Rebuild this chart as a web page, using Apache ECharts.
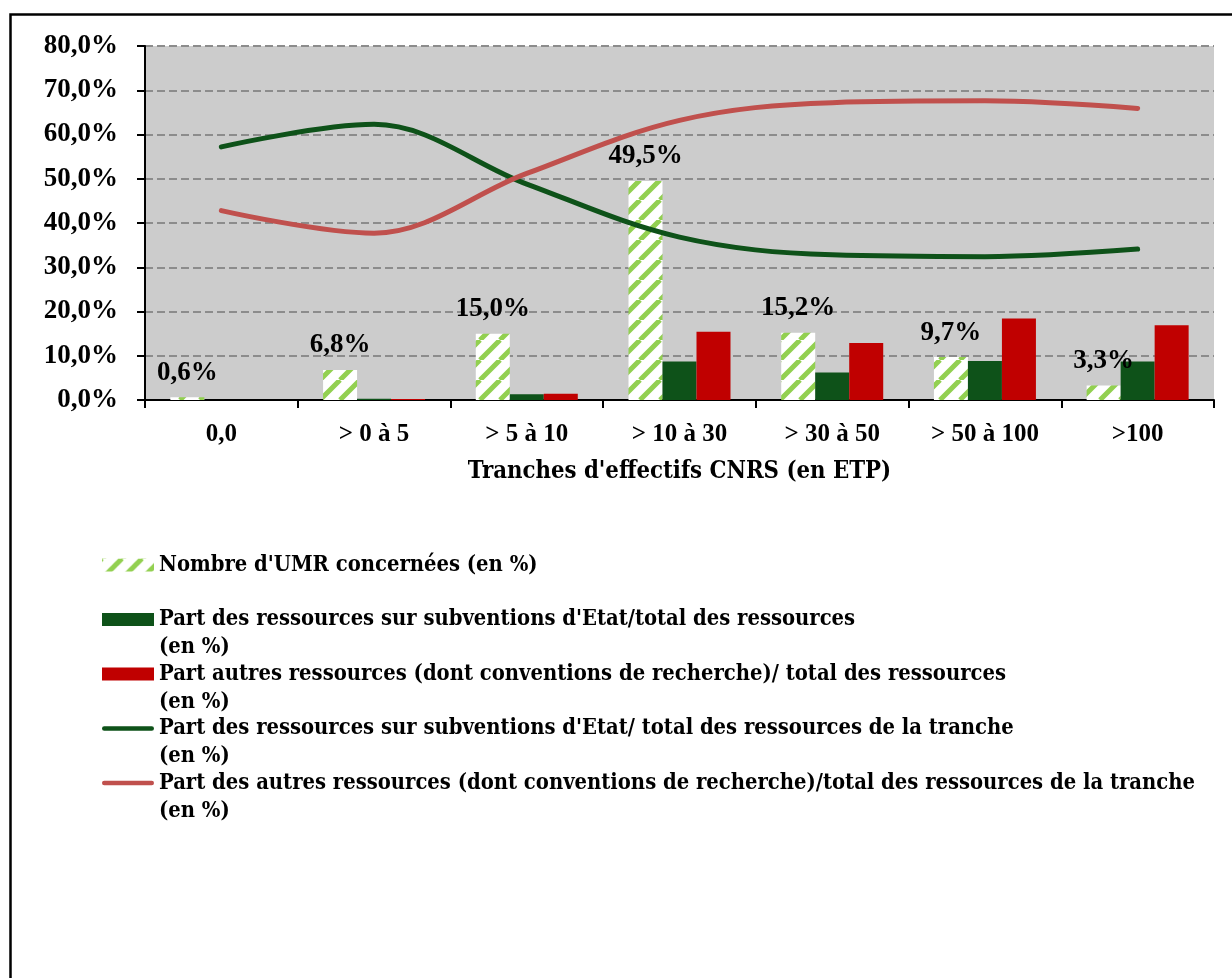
<!DOCTYPE html>
<html>
<head>
<meta charset="utf-8">
<script src="https://cdn.jsdelivr.net/npm/echarts@6/dist/echarts.min.js"></script>
<style>
  html, body { margin: 0; padding: 0; background: #ffffff; }
  #chart { width: 1232px; height: 978px; }
</style>
</head>
<body>
<div id="chart"></div>
<script>
// Tranches d'effectifs CNRS (en ETP)
const categories = ['0,0', '> 0 à 5', '> 5 à 10', '> 10 à 30', '> 30 à 50', '> 50 à 100', '>100'];

// Bars (en %)
const nombreUMR = [0.6, 6.8, 15.0, 49.5, 15.2, 9.7, 3.3];
const partSubventionsTotal = [0.0, 0.3, 1.3, 8.7, 6.2, 8.8, 8.7];
const partAutresTotal = [0.0, 0.2, 1.4, 15.4, 12.9, 18.4, 16.9];

// Lines (en %)
const partSubventionsTranche = [57.2, 62.3, 48.8, 36.8, 32.8, 32.4, 34.1];
const partAutresTranche = [42.8, 37.7, 51.2, 63.2, 67.2, 67.6, 65.9];

// Value axis ticks
const yTicks = [0, 10, 20, 30, 40, 50, 60, 70, 80];

// Legend entries: first line shown by the legend, second line drawn beneath it
const seriesNames = [
  "Nombre d'UMR concernées (en %)",
  "Part des ressources sur subventions d'Etat/total des ressources",
  "Part autres ressources (dont conventions de recherche)/ total des ressources",
  "Part des ressources sur subventions d'Etat/ total des ressources de la tranche",
  "Part des autres ressources (dont conventions de recherche)/total des ressources de la tranche"
];
const secondLines = ['', '(en %)', '(en %)', '(en %)', '(en %)'];

const NUM_FONT = '"Liberation Serif", "DejaVu Serif", serif';
const TXT_FONT = '"DejaVu Serif Condensed", "DejaVu Serif", serif';
const GREEN_LIGHT = '#92D050';
const GREEN_DARK = '#0E5219';
const RED = '#C00000';
const RED_LINE = '#C0504D';

// Diagonal hatch tile for the UMR bars
function hatchPattern() {
  const s = 20;
  const c = document.createElement('canvas');
  c.width = s; c.height = s;
  const g = c.getContext('2d');
  g.fillStyle = '#ffffff';
  g.fillRect(0, 0, s, s);
  g.strokeStyle = GREEN_LIGHT;
  g.lineWidth = 5;
  g.beginPath();
  [-s, 0, s].forEach(function (o) {
    g.moveTo(o, s);
    g.lineTo(o + s, 0);
  });
  g.stroke();
  return { image: c, repeat: 'repeat' };
}

const fmtPct = v => v.toFixed(1).replace('.', ',') + '%';

const chart = echarts.init(document.getElementById('chart'), null, { renderer: 'canvas' });

const legendCenter0 = 565;
const legendStep = 54.5;
const legendLine = 27;
const legendFontSize = 21.8;

const graphics = [
  {
    type: 'rect',
    left: 8, top: 12,
    shape: { width: 1400, height: 1100 },
    style: { fill: 'none', stroke: '#000000', lineWidth: 2.5 },
    silent: true,
    z: 100
  }
];
secondLines.forEach(function (t, i) {
  if (!t) return;
  graphics.push({
    type: 'text',
    x: 159,
    y: legendCenter0 + i * legendStep + 28,
    style: {
      text: t,
      font: 'bold ' + legendFontSize + 'px ' + TXT_FONT,
      fill: '#000000',
      verticalAlign: 'middle',
      align: 'left'
    },
    silent: true
  });
});

// rounded bar used as legend key for the two curves
const lineIcon = 'path://M2.5,0 H55.5 A2.5,2.5 0 0 1 55.5,5 H2.5 A2.5,2.5 0 0 1 2.5,0 Z';

chart.setOption({
  animation: false,
  backgroundColor: '#ffffff',
  textStyle: { fontFamily: NUM_FONT },
  grid: {
    left: 145, top: 46, right: 18, bottom: 578,
    show: true, backgroundColor: '#CCCCCC', borderWidth: 0
  },
  graphic: graphics,
  legend: {
    orient: 'vertical',
    left: 102,
    top: legendCenter0 - legendLine / 2,
    padding: 0,
    itemWidth: 52,
    itemHeight: 13,
    itemGap: legendStep - legendLine,
    selectedMode: false,
    textStyle: { fontFamily: TXT_FONT, fontWeight: 'bold', fontSize: legendFontSize, color: '#000000', lineHeight: legendLine },
    data: [
      { name: seriesNames[0], icon: 'rect' },
      { name: seriesNames[1], icon: 'rect' },
      { name: seriesNames[2], icon: 'rect' },
      { name: seriesNames[3], icon: lineIcon },
      { name: seriesNames[4], icon: lineIcon }
    ]
  },
  xAxis: {
    type: 'category',
    data: categories,
    boundaryGap: true,
    name: "Tranches d'effectifs CNRS (en ETP)",
    nameLocation: 'middle',
    nameGap: 60,
    nameTextStyle: { fontFamily: TXT_FONT, fontWeight: 'bold', fontSize: 23.7, color: '#000000' },
    axisLine: { lineStyle: { color: '#000000', width: 2 } },
    axisTick: { show: true, length: 8, lineStyle: { color: '#000000', width: 2 } },
    axisLabel: { fontFamily: NUM_FONT, fontWeight: 'bold', fontSize: 25, color: '#000000', margin: 22, interval: 0 },
    splitLine: { show: false }
  },
  yAxis: {
    type: 'value',
    min: yTicks[0],
    max: yTicks[yTicks.length - 1],
    interval: yTicks[1] - yTicks[0],
    axisLine: { show: true, lineStyle: { color: '#000000', width: 2 } },
    axisTick: { show: true, length: 8, lineStyle: { color: '#000000', width: 2 } },
    axisLabel: { fontFamily: NUM_FONT, fontWeight: 'bold', fontSize: 27, color: '#000000', margin: 27, formatter: fmtPct },
    splitLine: { show: true, lineStyle: { color: '#8C8C8C', width: 2, type: [8, 4] } }
  },
  series: [
    {
      name: seriesNames[0],
      type: 'bar',
      data: nombreUMR,
      barWidth: 34,
      barGap: '0%',
      itemStyle: { color: hatchPattern() },
      label: {
        show: true,
        position: 'top',
        distance: 11,
        fontFamily: NUM_FONT,
        fontWeight: 'bold',
        fontSize: 27,
        color: '#000000',
        formatter: p => fmtPct(p.value)
      },
      z: 2
    },
    {
      name: seriesNames[1],
      type: 'bar',
      data: partSubventionsTotal,
      barWidth: 34,
      barGap: '0%',
      itemStyle: { color: GREEN_DARK },
      z: 2
    },
    {
      name: seriesNames[2],
      type: 'bar',
      data: partAutresTotal,
      barWidth: 34,
      barGap: '0%',
      itemStyle: { color: RED },
      z: 2
    },
    {
      name: seriesNames[3],
      type: 'line',
      data: partSubventionsTranche,
      smooth: 0.35,
      symbol: 'none',
      lineStyle: { color: GREEN_DARK, width: 5, cap: 'round' },
      itemStyle: { color: GREEN_DARK },
      z: 5
    },
    {
      name: seriesNames[4],
      type: 'line',
      data: partAutresTranche,
      smooth: 0.35,
      symbol: 'none',
      lineStyle: { color: RED_LINE, width: 5, cap: 'round' },
      itemStyle: { color: RED_LINE },
      z: 5
    }
  ]
});
</script>
</body>
</html>
